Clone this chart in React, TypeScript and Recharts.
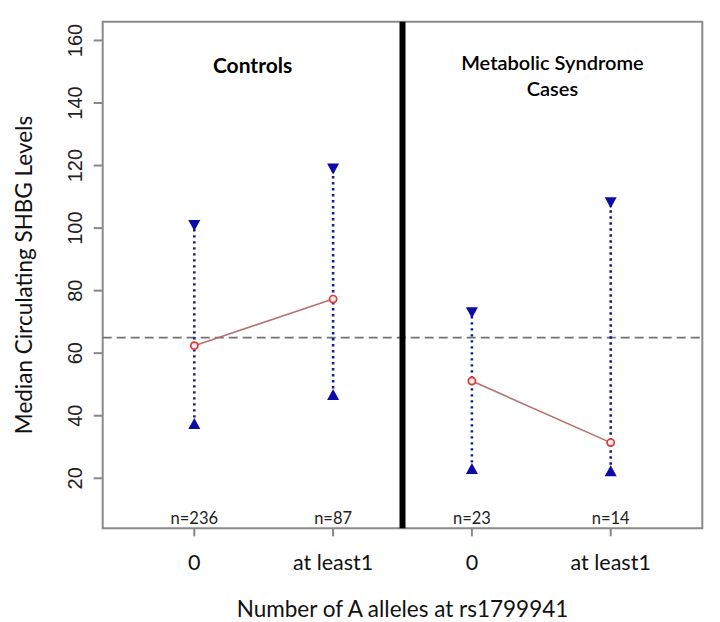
import React from 'react';
import { ComposedChart, XAxis, YAxis, Scatter, ReferenceLine, ReferenceArea } from 'recharts';

const categories = ['0', 'at least1', '0', 'at least1'];
const positions = [1, 2, 3, 4];
const medians = [62.4, 77.3, 51.1, 31.4];
const upperValues = [100.8, 118.9, 72.9, 108.1];
const lowerValues = [37.5, 46.8, 23.1, 22.4];
const sampleSizes = ['n=236', 'n=87', 'n=23', 'n=14'];
const panelTitles = [['Controls'], ['Metabolic Syndrome', 'Cases']];
const panelGroups = [[0, 1], [2, 3]];
const panelBounds = [[0.34, 2.5], [2.5, 4.66]];
const referenceLevel = 65;
const panelDivider = 2.5;
const yTicks = [20, 40, 60, 80, 100, 120, 140, 160];
const xDomain = [0.34, 4.66];
const yDomain = [4, 166];

const SANS = 'Lato, "Open Sans", sans-serif';
const BLUE = '#0b0ba8';
const DOT_BLUE = '#1c1c8c';

const upperData = positions.map((x, i) => ({ x, y: upperValues[i] }));
const lowerData = positions.map((x, i) => ({ x, y: lowerValues[i] }));
const whiskerData = positions.map((x, i) => [
  { x, y: lowerValues[i] },
  { x, y: upperValues[i] },
]);
const medianData = panelGroups.map((g) => g.map((i) => ({ x: positions[i], y: medians[i] })));

const DownTriangle = (props: any) => {
  const { cx, cy } = props;
  return <polygon points={`${cx - 6},${cy - 5.5} ${cx + 6},${cy - 5.5} ${cx},${cy + 5.5}`} fill={BLUE} />;
};
const UpTriangle = (props: any) => {
  const { cx, cy } = props;
  return <polygon points={`${cx - 6},${cy + 5.5} ${cx + 6},${cy + 5.5} ${cx},${cy - 5.5}`} fill={BLUE} />;
};
const OpenCircle = (props: any) => {
  const { cx, cy } = props;
  return <circle cx={cx} cy={cy} r={3.6} fill="#fbe9e9" stroke="#d83a3a" strokeWidth={1.7} />;
};
const NoShape = () => <g />;

const XTick = (props: any) => {
  const { x, y, payload } = props;
  const i = positions.indexOf(payload.value);
  const axisY = y - 10;
  return (
    <g>
      <text x={x} y={axisY - 4} textAnchor="middle" fontFamily={SANS} fontSize={16.5} fill="#222">
        {sampleSizes[i]}
      </text>
      <text x={x} y={axisY + 42} textAnchor="middle" fontFamily={SANS} fontSize={21.5} fill="#111">
        {categories[i]}
      </text>
    </g>
  );
};

const YTick = (props: any) => {
  const { x, y, payload } = props;
  const bx = x - 10;
  return (
    <text
      x={bx}
      y={y}
      transform={`rotate(-90 ${bx} ${y})`}
      textAnchor="middle"
      fontFamily='"Liberation Sans", Arial, sans-serif'
      fontSize={20}
      fill="#222"
    >
      {payload.value}
    </text>
  );
};

const XTitle = (props: any) => {
  const { viewBox } = props;
  const { x, y, width } = viewBox;
  return (
    <text x={x + width / 2} y={y + 89} textAnchor="middle" fontFamily={SANS} fontSize={22.5} fill="#111">
      Number of A alleles at rs1799941
    </text>
  );
};

const YTitle = (props: any) => {
  const { viewBox } = props;
  const { x, y, height } = viewBox;
  const bx = x - 11;
  const cy = y + height / 2;
  return (
    <text
      x={bx}
      y={cy}
      transform={`rotate(-90 ${bx} ${cy})`}
      textAnchor="middle"
      fontFamily={SANS}
      fontSize={22.5}
      fill="#111"
    >
      Median Circulating SHBG Levels
    </text>
  );
};

const PanelTitle = (props: any) => {
  const { viewBox, lines, bold } = props;
  const { x, y, width } = viewBox;
  const offsets = lines.length === 1 ? [51.5] : [47.8, 74.3];
  return (
    <text textAnchor="middle" fontFamily={SANS} fontSize={bold ? 21 : 20} fontWeight={bold ? 700 : 600} fill="#000">
      {lines.map((l: string, i: number) => (
        <tspan key={i} x={x + width / 2} y={y + offsets[i]}>
          {l}
        </tspan>
      ))}
    </text>
  );
};

export default function App() {
  return (
    <div style={{ position: 'absolute', left: 0, top: 0, width: 720, height: 622, background: '#fff' }}>
      <ComposedChart
        width={720}
        height={622}
        margin={{ top: 21.7, right: 17.7, bottom: 53.7, left: 42.7 }}
      >
        <XAxis
          type="number"
          dataKey="x"
          domain={xDomain}
          ticks={positions}
          allowDataOverflow
          axisLine={false}
          tickSize={8}
          tickMargin={2}
          tickLine={{ stroke: '#888', strokeWidth: 2 }}
          tick={<XTick />}
          height={40}
          label={<XTitle />}
        />
        <YAxis
          type="number"
          dataKey="y"
          domain={yDomain}
          ticks={yTicks}
          allowDataOverflow
          axisLine={false}
          tickSize={9}
          tickMargin={2}
          tickLine={{ stroke: '#888', strokeWidth: 2 }}
          tick={<YTick />}
          width={60}
          label={<YTitle />}
        />
        {panelBounds.map((b, i) => (
          <ReferenceArea
            key={`p${i}`}
            x1={b[0]}
            x2={b[1]}
            y1={yDomain[0]}
            y2={yDomain[1]}
            fill="none"
            stroke="none"
            ifOverflow="visible"
            label={<PanelTitle lines={panelTitles[i]} bold={i === 0} />}
          />
        ))}
        <ReferenceArea
          x1={xDomain[0]}
          x2={xDomain[1]}
          y1={yDomain[0]}
          y2={yDomain[1]}
          fill="none"
          fillOpacity={0}
          stroke="#8a8a8a"
          strokeWidth={2}
          ifOverflow="visible"
        />
        <ReferenceLine y={referenceLevel} stroke="#727272" strokeWidth={1.8} strokeDasharray="9 5" ifOverflow="visible" />
        <ReferenceLine x={panelDivider} stroke="#000" strokeWidth={6} ifOverflow="visible" />
        {whiskerData.map((d, i) => (
          <Scatter
            key={`w${i}`}
            data={d}
            line={{ stroke: DOT_BLUE, strokeWidth: 2.6, strokeDasharray: '2.4 3.6' }}
            shape={<NoShape />}
            isAnimationActive={false}
          />
        ))}
        {medianData.map((d, i) => (
          <Scatter
            key={`m${i}`}
            data={d}
            line={{ stroke: '#b47272', strokeWidth: 1.6 }}
            shape={<OpenCircle />}
            isAnimationActive={false}
          />
        ))}
        <Scatter data={upperData} shape={<DownTriangle />} isAnimationActive={false} />
        <Scatter data={lowerData} shape={<UpTriangle />} isAnimationActive={false} />
      </ComposedChart>
    </div>
  );
}
